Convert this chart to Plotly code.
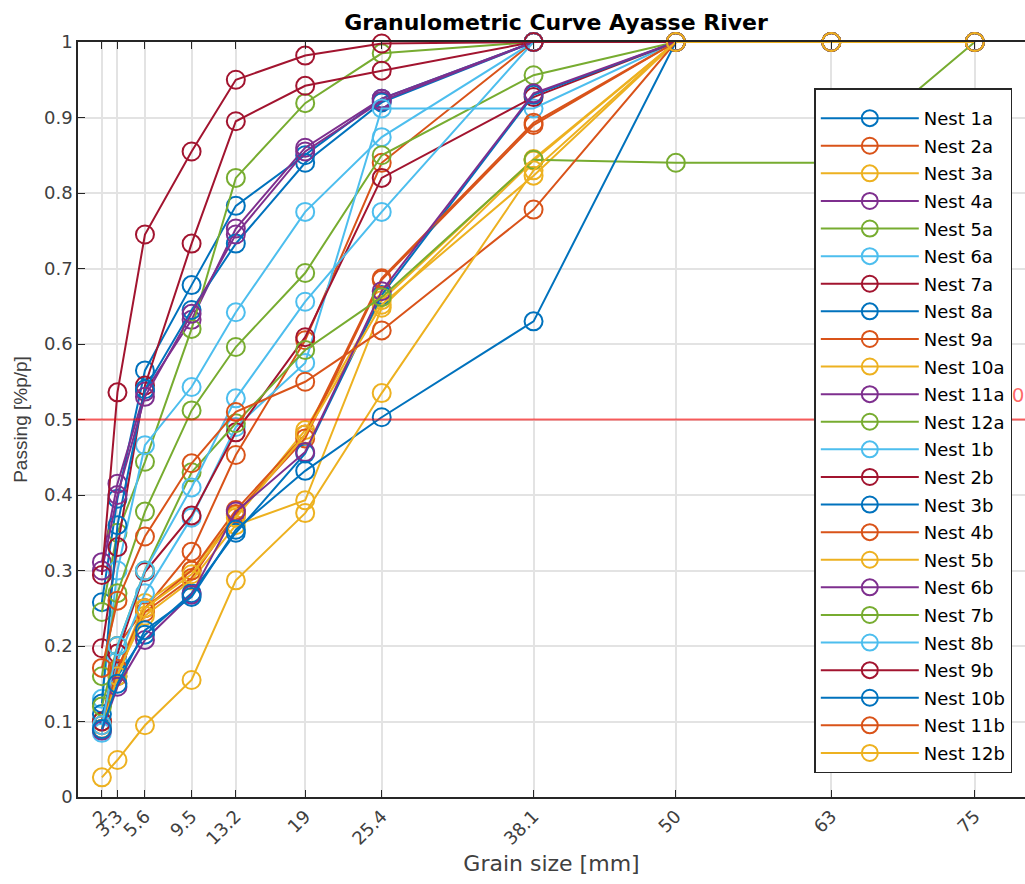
import plotly.graph_objects as go

# Sieve sizes (mm) and tick labels
grain_size = [2, 3.3, 5.6, 9.5, 13.2, 19, 25.4, 38.1, 50, 63, 75]
tick_labels = ["2", "3.3", "5.6", "9.5", "13.2", "19", "25.4", "38.1", "50", "63", "75"]

# Cumulative passing fraction for each nest sample
nest_1a = [0.258, 0.395, 0.565, 0.678, 0.783, 0.850, 0.925, 1.0, 1.0, 1.0, 1.0]
nest_2a = [0.100, 0.200, 0.250, 0.325, 0.453, 0.605, 0.840, 1.0, 1.0, 1.0, 1.0]
nest_3a = [0.100, 0.168, 0.257, 0.300, 0.373, 0.486, 0.658, 0.845, 1.0, 1.0, 1.0]
nest_4a = [0.311, 0.415, 0.537, 0.632, 0.753, 0.860, 0.925, 1.0, 1.0, 1.0, 1.0]
nest_5a = [0.245, 0.350, 0.444, 0.620, 0.820, 0.919, 0.985, 1.0, 1.0, 1.0, 1.0]
nest_6a = [0.130, 0.300, 0.466, 0.543, 0.642, 0.775, 0.874, 1.0, 1.0, 1.0, 1.0]
nest_7a = [0.197, 0.331, 0.545, 0.733, 0.895, 0.942, 0.962, 1.0, 1.0, 1.0, 1.0]
nest_8a = [0.124, 0.360, 0.540, 0.645, 0.733, 0.840, 0.920, 1.0, 1.0, 1.0, 1.0]
nest_9a = [0.090, 0.165, 0.245, 0.290, 0.375, 0.475, 0.685, 0.890, 1.0, 1.0, 1.0]
nest_10a = [0.095, 0.165, 0.240, 0.287, 0.360, 0.393, 0.648, 0.843, 1.0, 1.0, 1.0]
nest_11a = [0.300, 0.400, 0.530, 0.640, 0.745, 0.855, 0.922, 1.0, 1.0, 1.0, 1.0]
nest_12a = [0.160, 0.270, 0.378, 0.512, 0.596, 0.694, 0.850, 0.956, 1.0, 1.0, 1.0]
nest_1b = [0.085, 0.180, 0.270, 0.370, 0.490, 0.575, 0.912, 0.912, 1.0, 1.0, 1.0]
nest_2b = [0.100, 0.190, 0.298, 0.373, 0.483, 0.609, 0.820, 0.927, 1.0, 1.0, 1.0]
nest_3b = [0.110, 0.160, 0.215, 0.270, 0.350, 0.455, 0.665, 0.930, 1.0, 1.0, 1.0]
nest_4b = [0.095, 0.170, 0.250, 0.300, 0.380, 0.480, 0.687, 0.893, 1.0, 1.0, 1.0]
nest_5b = [0.090, 0.160, 0.250, 0.295, 0.370, 0.480, 0.652, 0.823, 1.0, 1.0, 1.0]
nest_6b = [0.088, 0.146, 0.208, 0.268, 0.378, 0.457, 0.670, 0.932, 1.0, 1.0, 1.0]
nest_7b = [0.120, 0.200, 0.300, 0.430, 0.495, 0.592, 0.662, 0.844, 0.840, 0.840, 1.0]
nest_8b = [0.095, 0.200, 0.300, 0.410, 0.528, 0.656, 0.775, 1.0, 1.0, 1.0, 1.0]
nest_9b = [0.294, 0.536, 0.745, 0.855, 0.950, 0.982, 0.998, 1.0, 1.0, 1.0, 1.0]
nest_10b = [0.090, 0.150, 0.221, 0.265, 0.354, 0.432, 0.503, 0.630, 1.0, 1.0, 1.0]
nest_11b = [0.171, 0.260, 0.345, 0.442, 0.510, 0.550, 0.618, 0.778, 1.0, 1.0, 1.0]
nest_12b = [0.026, 0.049, 0.095, 0.155, 0.287, 0.376, 0.535, 0.830, 1.0, 1.0, 1.0]

series_names = [
    "Nest 1a", "Nest 2a", "Nest 3a", "Nest 4a", "Nest 5a", "Nest 6a",
    "Nest 7a", "Nest 8a", "Nest 9a", "Nest 10a", "Nest 11a", "Nest 12a",
    "Nest 1b", "Nest 2b", "Nest 3b", "Nest 4b", "Nest 5b", "Nest 6b",
    "Nest 7b", "Nest 8b", "Nest 9b", "Nest 10b", "Nest 11b", "Nest 12b",
]
series_values = [
    nest_1a, nest_2a, nest_3a, nest_4a, nest_5a, nest_6a,
    nest_7a, nest_8a, nest_9a, nest_10a, nest_11a, nest_12a,
    nest_1b, nest_2b, nest_3b, nest_4b, nest_5b, nest_6b,
    nest_7b, nest_8b, nest_9b, nest_10b, nest_11b, nest_12b,
]

d50_level = 0.5

palette = ["#0072BD", "#D95319", "#EDB120", "#7E2F8E", "#77AC30", "#4DBEEE", "#A2142F"]
wide_font = "DejaVu Sans, Verdana, sans-serif"
narrow_font = "Liberation Sans, Arial, sans-serif"
axis_color = "#262626"
label_color = "#404040"
grid_color = "#e3e3e3"

fig = go.Figure()

for i, (name, vals) in enumerate(zip(series_names, series_values)):
    fig.add_trace(go.Scatter(
        x=grain_size, y=vals, name=name, mode="lines+markers",
        legendgroup=name,
        line=dict(color=palette[i % len(palette)], width=2),
        marker=dict(symbol="circle-open", size=18, line=dict(width=2),
                    color=palette[i % len(palette)]),
        cliponaxis=False,
    ))

# D50 reference level
fig.add_shape(type="line", xref="paper", x0=0, x1=1, yref="y",
              y0=d50_level, y1=d50_level,
              line=dict(color="rgba(255,0,0,0.6)", width=2))
fig.add_trace(go.Scatter(
    x=[79.15], y=[d50_level + 0.03], mode="text", text=["D50"],
    textposition="middle left", showlegend=False, cliponaxis=False,
    textfont=dict(color="rgba(255,0,0,0.6)", size=20, family=wide_font),
))

fig.update_layout(
    width=1025, height=884,
    margin=dict(l=78, r=0, t=42, b=87),
    paper_bgcolor="white", plot_bgcolor="white",
    font=dict(family=wide_font, color=axis_color, size=18),
    title=dict(text="<b>Granulometric Curve Ayasse River</b>",
               x=0.5425, xanchor="center", y=0.975, yanchor="middle",
               font=dict(size=22, color="black", family=wide_font)),
    showlegend=True,
    legend=dict(
        x=0.9866, xanchor="right", y=0.939, yanchor="top",
        bgcolor="white", bordercolor=axis_color, borderwidth=1.5,
        font=dict(size=18, color="black", family=wide_font),
        title=dict(text=" ", font=dict(size=8)),
        itemwidth=98, tracegroupgap=1.2,
    ),
)

fig.update_xaxes(
    range=[0, 79.2], tickvals=grain_size, ticktext=tick_labels,
    tickangle=-45, ticks="inside", ticklen=7, tickwidth=1.3,
    tickcolor=axis_color, showline=True, linecolor=axis_color, linewidth=1.5,
    mirror="ticks", showgrid=True, gridcolor=grid_color, gridwidth=1.5,
    zeroline=False, tickfont=dict(size=18, color=label_color, family=wide_font),
    title=dict(text="Grain size [mm]",
               font=dict(size=22, color=label_color, family=wide_font), standoff=8),
)
fig.update_yaxes(
    range=[0, 1], tickvals=[i / 10 for i in range(11)],
    ticktext=["0", "0.1", "0.2", "0.3", "0.4", "0.5", "0.6", "0.7", "0.8", "0.9", "1"],
    ticks="inside", ticklen=7, tickwidth=1.3, tickcolor=axis_color,
    showline=True, linecolor=axis_color, linewidth=1.5, mirror=False,
    showgrid=True, gridcolor=grid_color, gridwidth=1.5, zeroline=False,
    tickfont=dict(size=18, color=label_color, family=wide_font),
    title=dict(text="Passing [%p/p]",
               font=dict(size=19, color=label_color, family=narrow_font), standoff=11),
)

fig.write_html("out.html")
